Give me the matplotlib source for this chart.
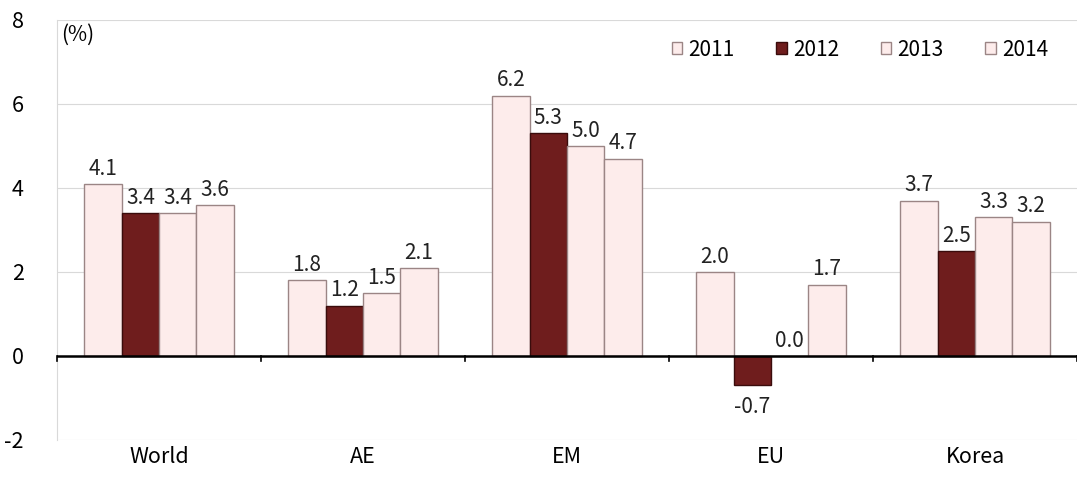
import matplotlib
matplotlib.use("Agg")
import matplotlib.pyplot as plt
import numpy as np

plt.rcParams['font.family'] = ['Noto Sans CJK KR', 'DejaVu Sans']

categories = ["World", "AE", "EM", "EU", "Korea"]
years = ["2011", "2012", "2013", "2014"]
values = {
    "2011": [4.1, 1.8, 6.2, 2.0, 3.7],
    "2012": [3.4, 1.2, 5.3, -0.7, 2.5],
    "2013": [3.4, 1.5, 5.0, 0.0, 3.3],
    "2014": [3.6, 2.1, 4.7, 1.7, 3.2],
}
yticks = [-2, 0, 2, 4, 6, 8]

light = "#fdeceb"
dark = "#6f1d1d"
colors = {"2011": light, "2012": dark, "2013": light, "2014": light}
edges = {"2011": "#9b8585", "2012": "#3a0c0c", "2013": "#9b8585", "2014": "#9b8585"}

fig = plt.figure(figsize=(10.77, 4.8), dpi=100)
ax = fig.add_axes([57 / 1077, 40 / 480, 1020 / 1077, 420 / 480])

x = np.arange(len(categories))
w = 0.183
for i, yr in enumerate(years):
    offs = (i - 1.5) * w
    ax.bar(x + offs, values[yr], width=w, color=colors[yr],
           edgecolor=edges[yr], linewidth=1.0, label=yr, zorder=3)
    for xi, v in zip(x + offs, values[yr]):
        if v < 0:
            ax.text(xi, v - 0.25, f"{v:.1f}", ha="center", va="top",
                    fontsize=15, color="#222222", zorder=5)
        else:
            ax.text(xi, v + 0.1, f"{v:.1f}", ha="center", va="bottom",
                    fontsize=15, color="#222222", zorder=5)

ax.set_xlim(-0.5, len(categories) - 0.5)
ax.set_ylim(-2, 8)
ax.set_yticks(yticks)
ax.set_yticklabels([str(t) for t in yticks], fontsize=15.5)
ax.yaxis.grid(True, color="#d9d9d9", linewidth=0.8, zorder=0)
ax.set_axisbelow(True)

ax.set_xticks(x)
ax.set_xticklabels(categories, fontsize=15.5)
ax.tick_params(axis="x", length=0, pad=4)
ax.tick_params(axis="y", length=0, pad=24)

for s in ["top", "right", "bottom"]:
    ax.spines[s].set_visible(False)
ax.spines["left"].set_color("#d9d9d9")

# zero baseline with group separators
ax.axhline(0, color="black", linewidth=1.8, zorder=4)
for b in np.arange(-0.5, len(categories), 1.0):
    ax.plot([b, b], [0, -0.12], color="black", linewidth=1.2, zorder=4,
            clip_on=False)

ax.text(0.004, 0.99, "(%)", transform=ax.transAxes, ha="left", va="top",
        fontsize=15)

leg = ax.legend(loc="upper right", bbox_to_anchor=(0.99, 1.0), ncol=4,
                frameon=False, fontsize=15, handlelength=0.5, handleheight=0.5,
                columnspacing=2.0, handletextpad=0.3)

fig.savefig("out.png", dpi=100)
